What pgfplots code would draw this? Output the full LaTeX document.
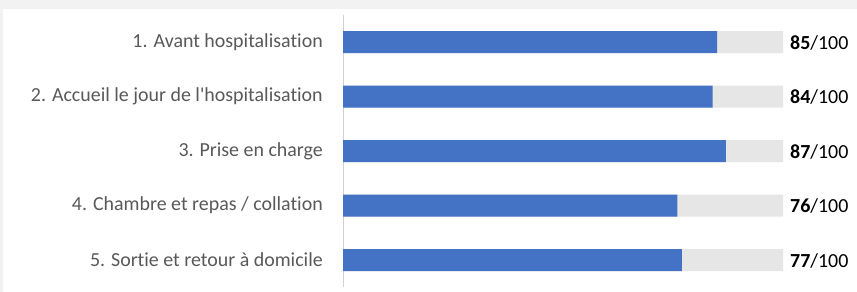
\documentclass[border=0pt]{standalone}
\usepackage{pgfplots}
\pgfplotsset{compat=1.18}
\usepackage{pgfplotstable}
\usepackage{fontspec}
\setmainfont{Carlito}[Ligatures={NoCommon}]
\definecolor{barblue}{HTML}{4472C4}
\definecolor{bargray}{HTML}{E6E6E6}
\definecolor{labgray}{HTML}{595959}
\definecolor{framegray}{HTML}{F2F2F2}
\definecolor{axgray}{HTML}{D0D0D0}
\pgfplotstableread{
idx val full
1 85 100
2 84 100
3 87 100
4 76 100
5 77 100
}\data
\begin{document}
\begin{tikzpicture}
\fill[framegray] (0,0) rectangle (857bp,292bp);
\fill[white] (3bp,0) rectangle (857bp,283bp);
\begin{axis}[
 at={(343bp,4.75bp)}, anchor=south west,
 scale only axis, width=440bp, height=272.5bp,
 xmin=0, xmax=100, ymin=0.5, ymax=5.5, y dir=reverse,
 axis x line=none, axis y line*=left,
 y axis line style={draw=axgray, line width=0.8pt, -},
 ytick={1,2,3,4,5},
 yticklabels={1. Avant hospitalisation, 2. Accueil le jour de l\textquotesingle hospitalisation, 3. Prise en charge, 4. Chambre et repas / collation, 5. Sortie et retour à domicile},
 major tick length=0pt,
 yticklabel style={font=\fontsize{20}{24}\selectfont, text=labgray, inner xsep=0pt, xshift=-20bp},
 xbar, bar width=22bp, bar shift=0pt,
 clip=false,
]
\addplot[fill=bargray, draw=none, point meta=explicit symbolic,
  nodes near coords={\textbf{\pgfplotspointmeta}/100},
  nodes near coords style={anchor=west, inner xsep=0pt, xshift=7bp, yshift=-1bp, font=\fontsize{20}{24}\selectfont, text=black}]
  table[x=full, y=idx, meta=val] {\data};
\addplot[fill=barblue, draw=none] table[x=val, y=idx] {\data};
\end{axis}
\pgfresetboundingbox
\useasboundingbox (0,0) rectangle (857bp,292bp);
\end{tikzpicture}
\end{document}
